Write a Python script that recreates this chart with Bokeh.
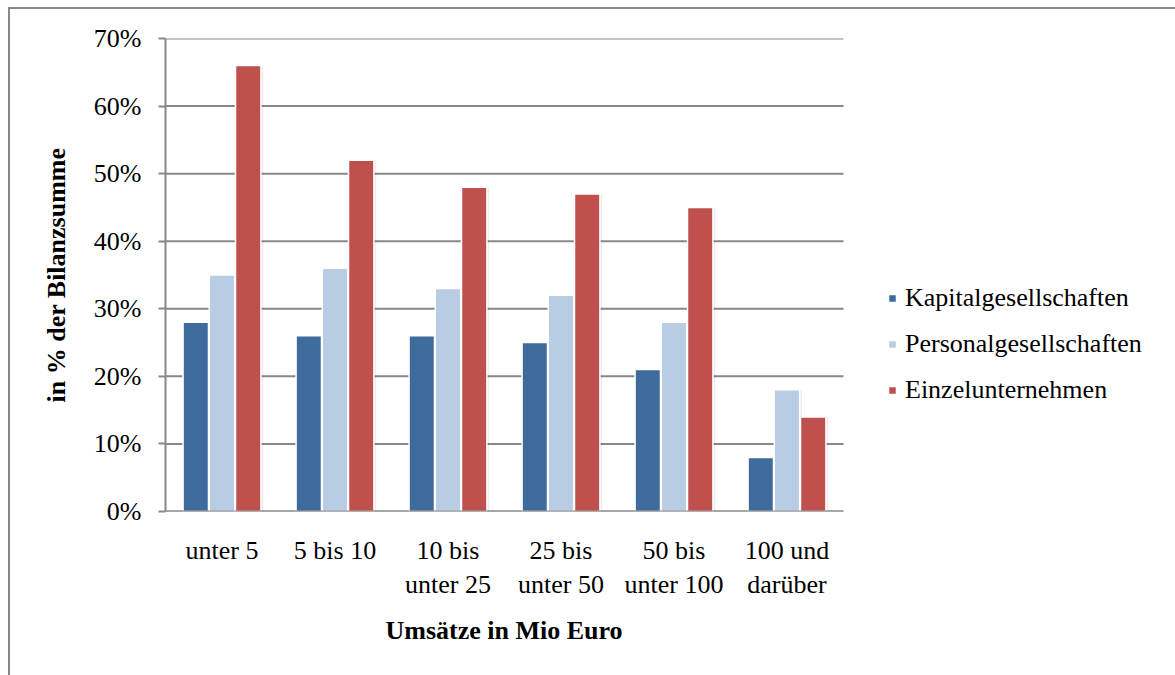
from bokeh.plotting import figure
from bokeh.models import (Legend, LegendItem, ColumnDataSource, Title,
                          PrintfTickFormatter, FixedTicker)
from bokeh.embed import file_html
from bokeh.resources import INLINE

# Umsatzgrößenklassen
categories = ["unter 5", "5 bis 10", "10 bis\nunter 25", "25 bis\nunter 50",
              "50 bis\nunter 100", "100 und\ndarüber"]
kapital = [28, 26, 26, 25, 21, 8]
personal = [35, 36, 33, 32, 28, 18]
einzel = [66, 52, 48, 47, 45, 14]
series_names = ["Kapitalgesellschaften", "Personalgesellschaften", "Einzelunternehmen"]
y_ticks = [0, 10, 20, 30, 40, 50, 60, 70]

colors = ["#3F6A9C", "#B8CCE4", "#C0504D"]
grid_gray = "#878787"
FONT = "Liberation Serif"
FS = "26px"

W, H = 1175, 675
LEFT, TOP, BOTTOM, RIGHT = 165, 38, 164, 5
GROUP_PX = 113  # width of one category slot

n = len(categories)
xc = [i + 0.5 for i in range(n)]
x_end = (W - LEFT - RIGHT) / GROUP_PX  # room to the right of the bars for the legend

src = ColumnDataSource(dict(x=xc, k=kapital, p=personal, e=einzel))

p = figure(width=W, height=H, x_range=(0, x_end), y_range=(0, 70),
           output_backend="svg", toolbar_location=None,
           min_border_left=LEFT, min_border_top=TOP, min_border_right=RIGHT,
           min_border_bottom=BOTTOM)
p.outline_line_color = None
p.background_fill_color = "white"
p.border_fill_alpha = 0
# chart-area frame: thin gray rule along the left and top edges
p.styles = {
    "background": (f"linear-gradient({grid_gray},{grid_gray}) 8px 7px / 2px 100% no-repeat, "
                   f"linear-gradient({grid_gray},{grid_gray}) 8px 7px / 100% 2px no-repeat, white"),
}

# horizontal gridlines, only across the category area
p.segment(x0=0, x1=n, y0=y_ticks, y1=y_ticks, line_color=grid_gray, line_width=2)

bw = 0.225
renderers = []
for col, off, c in zip(["k", "p", "e"], [-0.232, 0.0, 0.232], colors):
    xs = [v + off for v in xc]
    # soft drop shadow behind each bar
    p.vbar(x=[v + 0.02 for v in xs], top=src.data[col], width=bw, bottom=0,
           fill_color="#000000", fill_alpha=0.07, line_color=None)
    r = p.vbar(x=xs, top=src.data[col], width=bw, bottom=0,
               fill_color=c, line_color="white", line_width=1.5)
    renderers.append(r)

# category axis baseline
p.segment(x0=0, x1=n, y0=0, y1=0, line_color=grid_gray, line_width=2)

# axes
p.yaxis.ticker = FixedTicker(ticks=y_ticks)
p.yaxis.formatter = PrintfTickFormatter(format="%d%%")
p.xaxis.ticker = FixedTicker(ticks=xc)
p.xaxis.major_label_overrides = {x: lab for x, lab in zip(xc, categories)}
for ax in (p.xaxis[0], p.yaxis[0]):
    ax.axis_line_color = grid_gray
    ax.axis_line_width = 2
    ax.major_label_text_font = FONT
    ax.major_label_text_font_size = FS
    ax.major_label_text_color = "black"
    ax.axis_label_text_font = FONT
    ax.axis_label_text_font_style = "bold"
    ax.axis_label_text_font_size = FS
    ax.axis_label_text_color = "black"
    ax.minor_tick_line_color = None

p.yaxis.major_tick_line_color = grid_gray
p.yaxis.major_tick_line_width = 2
p.yaxis.major_tick_out = 7
p.yaxis.major_tick_in = 0
p.yaxis.major_label_standoff = 17
p.yaxis.axis_label = "in % der Bilanzsumme"
p.yaxis.axis_label_standoff = 20

p.xaxis.axis_line_color = None
p.xaxis.major_tick_line_color = None
p.xaxis.major_label_standoff = 18

p.xgrid.grid_line_color = None
p.ygrid.grid_line_color = None

# x-axis title, centred under the category area
p.add_layout(Title(text="Umsätze in Mio Euro", text_font=FONT, text_font_size=FS,
                   text_font_style="bold", text_color="black", align="left",
                   offset=220, standoff=22), "below")

legend = Legend(
    items=[LegendItem(label=nm, renderers=[r]) for nm, r in zip(series_names, renderers)],
    location=(722, 106), orientation="vertical",
    label_text_font=FONT, label_text_font_size=FS, label_text_color="black",
    glyph_width=10, glyph_height=10, label_standoff=8, spacing=16,
    padding=0, margin=0, border_line_color=None, background_fill_alpha=0,
)
p.add_layout(legend, "center")

open("out.html", "w").write(file_html(p, INLINE))
